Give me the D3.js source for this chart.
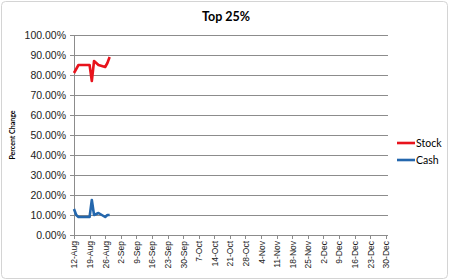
<!DOCTYPE html>
<html>
<head>
    <meta charset="utf-8">
    <title>Top 25%</title>
    <script src="https://cdn.jsdelivr.net/npm/d3@7"></script>
    <style>
        body { margin: 0; background: #fff; }
        svg { display: block; font-family: Lato, "Open Sans", sans-serif; }
        .grid line { stroke: #8c8c8c; stroke-width: 1; shape-rendering: crispEdges; }
        .axis path, .axis line { stroke: #8c8c8c; shape-rendering: crispEdges; }
        .axis text { fill: #222; }
    </style>
</head>
<body>
<svg width="449" height="280"></svg>
<script>

// daily readings, August (business days)
var days = ['2013-08-12', '2013-08-13', '2013-08-14', '2013-08-15', '2013-08-16',
            '2013-08-19', '2013-08-20', '2013-08-21', '2013-08-22', '2013-08-23',
            '2013-08-26', '2013-08-27', '2013-08-28'];
var stock = [0.81, 0.83, 0.85, 0.85, 0.85, 0.85, 0.77, 0.87, 0.86, 0.85, 0.84, 0.86, 0.89];
var cash  = [0.13, 0.10, 0.09, 0.09, 0.09, 0.09, 0.175, 0.10, 0.105, 0.11, 0.09, 0.10, 0.10];

var tickLabels = ['12-Aug', '19-Aug', '26-Aug', '2-Sep', '9-Sep', '16-Sep', '23-Sep', '30-Sep',
                  '7-Oct', '14-Oct', '21-Oct', '28-Oct', '4-Nov', '11-Nov', '18-Nov', '25-Nov',
                  '2-Dec', '9-Dec', '16-Dec', '23-Dec', '30-Dec'];
var yTicks = [0, 0.1, 0.2, 0.3, 0.4, 0.5, 0.6, 0.7, 0.8, 0.9, 1.0];

var series = [
    {name: 'Stock', values: stock, color: '#e8131c'},
    {name: 'Cash', values: cash, color: '#2467ad'}
];

var svg = d3.select('svg'),
    parse = d3.timeParse('%Y-%m-%d'),
    plotLeft = 74, plotRight = 388, plotTop = 35, plotBottom = 235;

var tickDates = tickLabels.map(function (t, i) {
    return d3.timeDay.offset(parse('2013-08-12'), i * 7);
});

var x = d3.scaleTime()
    .domain([parse('2013-08-12'), parse('2013-12-31')])
    .range([plotLeft, plotRight]);
var y = d3.scaleLinear().domain([0, 1]).range([plotBottom, plotTop]);

// frame
svg.append('rect')
    .attr('x', 1.5).attr('y', 1.5)
    .attr('width', 446).attr('height', 277)
    .attr('rx', 4)
    .attr('fill', '#fff')
    .attr('stroke', '#d4d4d4');

svg.append('text')
    .attr('x', 226).attr('y', 21)
    .attr('text-anchor', 'middle')
    .attr('font-size', 12.5)
    .attr('font-weight', 'bold')
    .text('Top 25%');

// gridlines
svg.append('g').attr('class', 'grid')
    .selectAll('line')
    .data(yTicks.slice(1))
    .join('line')
    .attr('x1', plotLeft).attr('x2', plotRight)
    .attr('y1', function (d) { return Math.round(y(d)) + 0.5; })
    .attr('y2', function (d) { return Math.round(y(d)) + 0.5; });

var yAxis = svg.append('g').attr('class', 'axis')
    .attr('transform', 'translate(' + plotLeft + ',0)')
    .call(d3.axisLeft(y).tickValues(yTicks).tickSize(4).tickPadding(4)
        .tickFormat(function (d) { return (d * 100).toFixed(2) + '%'; }));
yAxis.selectAll('text').attr('font-size', 10.5);

var xAxis = svg.append('g').attr('class', 'axis')
    .attr('transform', 'translate(0,' + plotBottom + ')')
    .call(d3.axisBottom(x).tickValues(tickDates).tickSize(4).tickPadding(4)
        .tickFormat(function (d, i) { return tickLabels[i]; }));
xAxis.select('.domain').attr('d', 'M' + plotLeft + ',0.5H' + plotRight);
xAxis.selectAll('text')
    .attr('font-size', 8.5)
    .attr('text-anchor', 'end')
    .attr('transform', 'rotate(-90)')
    .attr('x', -6).attr('y', 0)
    .attr('dy', '0.35em');

svg.append('text')
    .attr('transform', 'translate(15,' + ((plotTop + plotBottom) / 2) + ') rotate(-90)')
    .attr('text-anchor', 'middle')
    .attr('font-size', 7)
    .attr('font-weight', 'bold')
    .text('Percent Change');

var line = d3.line()
    .x(function (d, i) { return x(parse(days[i])); })
    .y(function (d) { return y(d); });

svg.append('g').selectAll('path')
    .data(series)
    .join('path')
    .attr('fill', 'none')
    .attr('stroke', function (d) { return d.color; })
    .attr('stroke-width', 2.6)
    .attr('stroke-linejoin', 'round')
    .attr('d', function (d) { return line(d.values); });

// legend
var legend = svg.append('g').selectAll('g')
    .data(series)
    .join('g')
    .attr('transform', function (d, i) { return 'translate(397,' + (143 + i * 17) + ')'; });
legend.append('line')
    .attr('x1', 0).attr('x2', 18)
    .attr('stroke', function (d) { return d.color; })
    .attr('stroke-width', 2.6);
legend.append('text')
    .attr('x', 19).attr('dy', '0.35em')
    .attr('font-size', 10.5)
    .text(function (d) { return d.name; });

</script>
</body>
</html>
